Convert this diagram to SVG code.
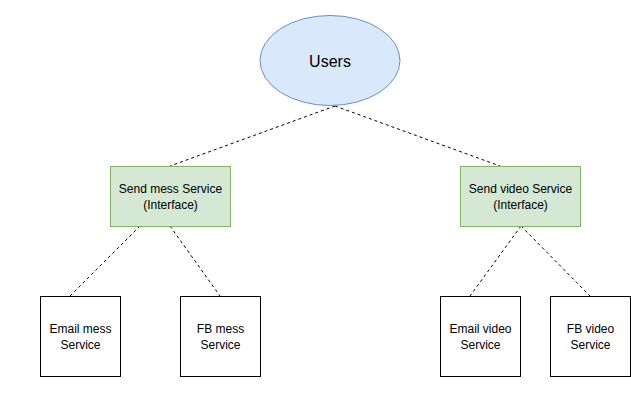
<svg xmlns="http://www.w3.org/2000/svg" width="631" height="400" viewBox="0 0 631 400">
<style>
.bg{fill:#ffffff}
.edge{fill:none;stroke:#000000;stroke-width:1;stroke-dasharray:3 3}
.blue{fill:#dae8fc;stroke:#6c8ebf;stroke-width:1}
.green{fill:#d5e8d4;stroke:#82b366;stroke-width:1}
.plain{fill:#ffffff;stroke:#000000;stroke-width:1}
text{font-family:"Liberation Sans",Arial,Helvetica,sans-serif;font-size:12px;fill:#000000;text-anchor:middle}
.big{font-size:16px}
</style>
<rect class="bg" x="0" y="0" width="631" height="400"/>
<g id="connectors">
<path class="edge" d="M335 106 L170 166"/>
<path class="edge" d="M335 106 L500 166"/>
<path class="edge" d="M140 226 L70 296"/>
<path class="edge" d="M170 226 L220 296"/>
<path class="edge" d="M521 226 L470 296"/>
<path class="edge" d="M521 226 L590 296"/>
</g>
<g id="users">
<ellipse class="blue" cx="330" cy="60.5" rx="70" ry="45"/>
<text class="big" x="330" y="66.5">Users</text>
</g>
<g id="send-mess">
<rect class="green" x="110.5" y="166.5" width="120" height="60"/>
<text x="170.5" y="193">Send mess Service</text>
<text x="170.5" y="208.5">(Interface)</text>
</g>
<g id="send-video">
<rect class="green" x="460.5" y="166.5" width="120" height="60"/>
<text x="520.5" y="193">Send video Service</text>
<text x="520.5" y="208.5">(Interface)</text>
</g>
<g id="email-mess">
<rect class="plain" x="40.5" y="296.5" width="80" height="80"/>
<text x="80.5" y="333">Email mess</text>
<text x="80.5" y="348.5">Service</text>
</g>
<g id="fb-mess">
<rect class="plain" x="180.5" y="296.5" width="80" height="80"/>
<text x="220.5" y="333">FB mess</text>
<text x="220.5" y="348.5">Service</text>
</g>
<g id="email-video">
<rect class="plain" x="440.5" y="296.5" width="80" height="80"/>
<text x="480.5" y="333">Email video</text>
<text x="480.5" y="348.5">Service</text>
</g>
<g id="fb-video">
<rect class="plain" x="550.5" y="296.5" width="80" height="80"/>
<text x="590.5" y="333">FB video</text>
<text x="590.5" y="348.5">Service</text>
</g>
</svg>
